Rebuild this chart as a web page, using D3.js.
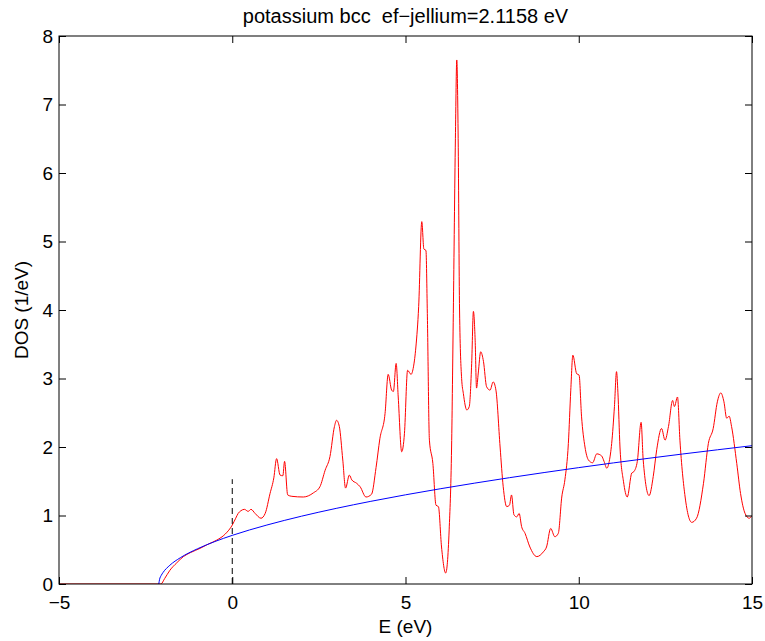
<!DOCTYPE html>
<html>
<head>
<meta charset="utf-8">
<style>
  body { margin: 0; background: #fff; }
  text { font-family: "Liberation Sans", Arial, sans-serif; }
</style>
</head>
<body>
<div id="chart"></div>
<script src="https://d3js.org/d3.v7.min.js"></script>
<script>
// DOS from the calculation (red)
const redE = [-5, -2.06, -1.95, -1.80, -1.60, -1.41, -1.20, -0.93, -0.70, -0.45, -0.20, 0.00, 0.10, 0.17, 0.25, 0.35, 0.46, 0.54, 0.66, 0.83, 0.95,
  1.09, 1.20, 1.28, 1.38, 1.46, 1.51, 1.60, 1.72, 2.05, 2.34, 2.53, 2.68, 2.82, 2.95, 3.01, 3.09, 3.19, 3.27, 3.38, 3.45, 3.59, 3.69, 3.86,
  4.02, 4.15, 4.26, 4.41, 4.50, 4.60, 4.65, 4.73, 4.79, 4.89, 4.97, 5.06, 5.16, 5.23, 5.30, 5.38, 5.47, 5.53, 5.59, 5.63, 5.69, 5.79, 5.88,
  5.95, 6.04, 6.16, 6.26, 6.33, 6.38, 6.44, 6.48, 6.52, 6.56, 6.62, 6.67, 6.77, 6.84, 6.91, 6.96, 7.01, 7.05, 7.10, 7.17, 7.25, 7.34, 7.44,
  7.53, 7.61, 7.73, 7.82, 7.92, 8.00, 8.06, 8.13, 8.21, 8.28, 8.35, 8.45, 8.59, 8.79, 8.98, 9.07, 9.19, 9.31, 9.41, 9.51, 9.60, 9.70, 9.77,
  9.83, 9.94, 10.01, 10.08, 10.18, 10.28, 10.40, 10.52, 10.66, 10.73, 10.81, 10.88, 10.95, 11.03, 11.09, 11.13, 11.19, 11.29, 11.40, 11.53,
  11.59, 11.69, 11.80, 11.86, 12.03, 12.15, 12.25, 12.39, 12.49, 12.59, 12.71, 12.76, 12.85, 12.92, 13.07, 13.26, 13.40, 13.60, 13.74,
  13.88, 14.00, 14.10, 14.19, 14.27, 14.34, 14.41, 14.56, 14.67, 14.80, 14.92, 15.00];
const redDos = [0, 0, 0.08, 0.20, 0.31, 0.40, 0.46, 0.52, 0.58, 0.64, 0.73, 0.86, 0.96, 1.03, 1.07, 1.09, 1.06, 1.09, 1.03, 0.96, 1.03,
  1.32, 1.55, 1.83, 1.59, 1.58, 1.79, 1.30, 1.28, 1.27, 1.33, 1.42, 1.66, 1.86, 2.30, 2.39, 2.30, 1.81, 1.40, 1.59, 1.52, 1.47, 1.42, 1.27,
  1.31, 1.70, 2.12, 2.49, 3.06, 2.83, 2.81, 3.22, 2.73, 1.93, 2.20, 3.12, 3.06, 3.17, 3.46, 4.05, 5.29, 4.89, 4.87, 3.95, 2.10, 1.76, 1.15,
  1.13, 0.54, 0.16, 0.79, 2.00, 3.95, 6.50, 7.65, 6.50, 4.00, 3.00, 2.78, 2.54, 2.59, 3.22, 3.98, 3.56, 2.86, 3.08, 3.39, 3.25, 2.88, 2.83,
  2.95, 2.83, 2.00, 1.42, 1.13, 1.15, 1.30, 1.01, 0.98, 1.03, 0.84, 0.74, 0.54, 0.40, 0.47, 0.54, 0.81, 0.69, 0.74, 1.27, 1.52, 2.05, 2.83,
  3.34, 3.07, 3.05, 2.45, 2.00, 1.81, 1.77, 1.90, 1.87, 1.79, 1.69, 1.79, 2.05, 2.59, 3.10, 2.80, 2.00, 1.50, 1.27, 1.62,
  1.64, 1.79, 2.36, 1.81, 1.29, 1.57, 1.96, 2.27, 2.10, 2.30, 2.68, 2.59, 2.73, 2.10, 1.27, 0.90, 0.96, 1.47, 2.05,
  2.27, 2.66, 2.79, 2.66, 2.42, 2.45, 2.30, 1.76, 1.32, 1.03, 0.96, 1.00];

// jellium (free electron) DOS (blue)
const blueE = [-2.12, -2.10, -2.05, -2.00, -1.80, -1.50, -1.00, -0.50, 0, 1, 2, 3, 4, 5, 6, 7, 8, 9, 10, 11, 12, 13, 14, 15];
const blueDos = [0, 0.062, 0.125, 0.166, 0.274, 0.383, 0.515, 0.620, 0.710, 0.861, 0.990, 1.104, 1.207, 1.302, 1.390, 1.473,
  1.552, 1.627, 1.699, 1.768, 1.834, 1.898, 1.959, 2.019];

// Fermi level marker
const fermiE = [0, 0];
const fermiDos = [0, 1.53];

const xTicks = [-5, 0, 5, 10, 15];
const yTicks = [0, 1, 2, 3, 4, 5, 6, 7, 8];

const width = 765, height = 641;
const margin = { top: 36, right: 13, bottom: 57, left: 59 };
const iw = width - margin.left - margin.right;
const ih = height - margin.top - margin.bottom;
const fontSize = '19px';

const svg = d3.select('#chart').append('svg')
  .attr('width', width)
  .attr('height', height)
  .style('background', '#fff');

const g = svg.append('g').attr('transform', `translate(${margin.left},${margin.top})`);

const x = d3.scaleLinear().domain([-5, 15]).range([0, iw]);
const y = d3.scaleLinear().domain([0, 8]).range([ih, 0]);

g.append('defs').append('clipPath').attr('id', 'clip')
  .append('rect').attr('width', iw).attr('height', ih);

const plot = g.append('g').attr('clip-path', 'url(#clip)');

const line = d3.line().x(d => x(d[0])).y(d => y(d[1]));

plot.append('path')
  .datum(redE.map((e, i) => [e, redDos[i]]))
  .attr('fill', 'none')
  .attr('stroke', '#ff0000')
  .attr('stroke-width', 1)
  .attr('d', line.curve(d3.curveMonotoneX));

plot.append('path')
  .datum(blueE.map((e, i) => [e, blueDos[i]]))
  .attr('fill', 'none')
  .attr('stroke', '#0000ff')
  .attr('stroke-width', 1)
  .attr('d', line.curve(d3.curveMonotoneX));

plot.append('path')
  .datum(fermiE.map((e, i) => [e, fermiDos[i]]))
  .attr('fill', 'none')
  .attr('stroke', '#000')
  .attr('stroke-width', 1)
  .attr('stroke-dasharray', '6,4')
  .attr('d', line.curve(d3.curveLinear));

// axes, MATLAB style: ticks inward on all four sides
const tickLen = 7;
const xBottom = g.append('g').attr('transform', `translate(0,${ih})`)
  .call(d3.axisBottom(x).tickValues(xTicks).tickSizeInner(-tickLen).tickSizeOuter(0).tickPadding(12).tickFormat(d => d < 0 ? '\u2212' + Math.abs(d) : d));
const xTop = g.append('g')
  .call(d3.axisTop(x).tickValues(xTicks).tickSizeInner(-tickLen).tickSizeOuter(0).tickFormat(''));
const yLeft = g.append('g')
  .call(d3.axisLeft(y).tickValues(yTicks).tickSizeInner(-tickLen).tickSizeOuter(0).tickPadding(6));
const yRight = g.append('g').attr('transform', `translate(${iw},0)`)
  .call(d3.axisRight(y).tickValues(yTicks).tickSizeInner(-tickLen).tickSizeOuter(0).tickFormat(''));

[xBottom, xTop, yLeft, yRight].forEach(a => {
  a.select('.domain').remove();
  a.selectAll('line').attr('stroke', '#000');
  a.selectAll('text').attr('fill', '#000').style('font-size', fontSize)
    .style('font-family', '"Liberation Sans", Arial, sans-serif');
});

g.append('rect')
  .attr('width', iw).attr('height', ih)
  .attr('fill', 'none').attr('stroke', '#000').attr('stroke-width', 1);

svg.append('text')
  .attr('x', margin.left + iw / 2).attr('y', 23)
  .attr('text-anchor', 'middle').style('font-size', '20px')
  .attr('xml:space', 'preserve')
  .text('potassium bcc  ef\u2212jellium=2.1158 eV');

svg.append('text')
  .attr('x', margin.left + iw / 2).attr('y', 633)
  .attr('text-anchor', 'middle').style('font-size', fontSize)
  .text('E (eV)');

svg.append('text')
  .attr('transform', `translate(28,${margin.top + ih / 2}) rotate(-90)`)
  .attr('text-anchor', 'middle').style('font-size', fontSize)
  .text('DOS (1/eV)');
</script>
</body>
</html>
